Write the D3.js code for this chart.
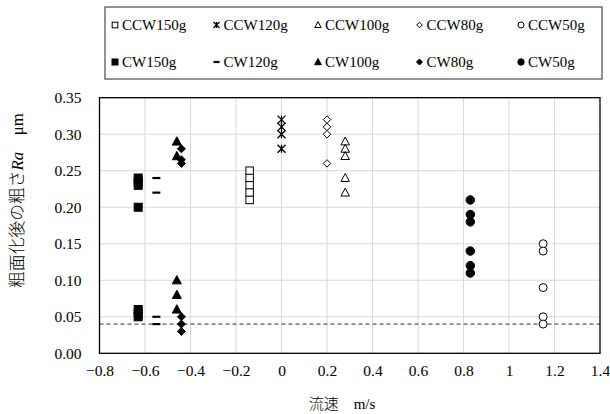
<!DOCTYPE html>
<html>
<head>
<meta charset="utf-8">
<script src="https://cdn.jsdelivr.net/npm/d3@7"></script>
<style>
  body { margin: 0; background: #fff; }
</style>
</head>
<body>
<div id="chart"></div>
<script>
// series data
var seriesNames = ["CCW150g", "CCW120g", "CCW100g", "CCW80g", "CCW50g",
                   "CW150g", "CW120g", "CW100g", "CW80g", "CW50g"];
var seriesX = [-0.14, 0, 0.28, 0.2, 1.15, -0.63, -0.55, -0.46, -0.44, 0.83];
var ccw150 = [0.25, 0.24, 0.23, 0.22, 0.21];
var ccw120 = [0.32, 0.31, 0.30, 0.28];
var ccw100 = [0.29, 0.28, 0.27, 0.24, 0.22];
var ccw80 = [0.32, 0.31, 0.30, 0.26];
var ccw50 = [0.15, 0.14, 0.09, 0.05, 0.04];
var cw150 = [0.24, 0.235, 0.23, 0.20, 0.06, 0.055, 0.05];
var cw120 = [0.24, 0.22, 0.05, 0.04];
var cw100 = [0.29, 0.27, 0.10, 0.08, 0.06];
var cw80 = [0.28, 0.265, 0.26, 0.05, 0.04, 0.03];
var cw50 = [0.21, 0.19, 0.18, 0.14, 0.12, 0.11];
var seriesY = [ccw150, ccw120, ccw100, ccw80, ccw50, cw150, cw120, cw100, cw80, cw50];
var markers = ["squareOpen", "star", "triangleOpen", "diamondOpen", "circleOpen",
               "square", "dash", "triangle", "diamond", "circle"];

var xTicks = [-0.8, -0.6, -0.4, -0.2, 0, 0.2, 0.4, 0.6, 0.8, 1, 1.2, 1.4];
var yTicks = [0, 0.05, 0.1, 0.15, 0.2, 0.25, 0.3, 0.35];
var thresholdRa = 0.04;

var serif = "'Liberation Serif', 'DejaVu Serif', serif";
var cjk = "'Noto Sans CJK JP', sans-serif";

var width = 610, height = 414;
var margin = { left: 99.5, right: 10, top: 97.7, bottom: 60.7 };

var svg = d3.select("#chart").append("svg")
    .attr("width", width)
    .attr("height", height);

var x = d3.scaleLinear().domain([-0.8, 1.4]).range([margin.left, width - margin.right]);
var y = d3.scaleLinear().domain([0, 0.35]).range([height - margin.bottom, margin.top]);

// grid
var grid = svg.append("g").attr("stroke", "#d9d9d9").attr("stroke-width", 1);
grid.selectAll(".gx").data(xTicks.slice(1, -1)).join("line")
    .attr("x1", d => x(d)).attr("x2", d => x(d))
    .attr("y1", y(0)).attr("y2", y(0.35));
grid.selectAll(".gy").data(yTicks.slice(1, -1)).join("line")
    .attr("class", "gy")
    .attr("x1", x(-0.8)).attr("x2", x(1.4))
    .attr("y1", d => y(d)).attr("y2", d => y(d));

// threshold line
svg.append("line")
    .attr("x1", x(-0.8)).attr("x2", x(1.4))
    .attr("y1", y(thresholdRa)).attr("y2", y(thresholdRa))
    .attr("stroke", "#595959").attr("stroke-width", 1.3)
    .attr("stroke-dasharray", "4,3");

// axes
var xAxis = svg.append("g")
    .attr("transform", `translate(0,${y(0)})`)
    .call(d3.axisBottom(x).tickValues(xTicks).tickSize(0).tickPadding(12)
        .tickFormat(d => d3.format("")(+d.toFixed(1))));
var yAxis = svg.append("g")
    .attr("transform", `translate(${x(-0.8)},0)`)
    .call(d3.axisLeft(y).tickValues(yTicks).tickSize(0).tickPadding(18)
        .tickFormat(d3.format(".2f")));
[xAxis, yAxis].forEach(a => {
    a.attr("font-family", serif).attr("font-size", 15.5);
    a.select(".domain").remove();
    a.selectAll("text").attr("fill", "#000");
});

// plot border
svg.append("rect")
    .attr("x", x(-0.8)).attr("y", y(0.35))
    .attr("width", x(1.4) - x(-0.8)).attr("height", y(0) - y(0.35))
    .attr("fill", "none").attr("stroke", "#000").attr("stroke-width", 1.3);

function drawMarker(g, type, s) {
    var h = s / 2;
    if (type === "square" || type === "squareOpen") {
        g.append("rect").attr("x", -h).attr("y", -h).attr("width", s).attr("height", s)
            .attr("fill", type === "square" ? "#000" : "#fff").attr("stroke", "#000").attr("stroke-width", 1);
    } else if (type === "circle" || type === "circleOpen") {
        g.append("circle").attr("r", h)
            .attr("fill", type === "circle" ? "#000" : "#fff").attr("stroke", "#000").attr("stroke-width", 1);
    } else if (type === "triangle" || type === "triangleOpen") {
        g.append("path").attr("d", `M0,${-h * 1.05}L${h},${h * 0.8}L${-h},${h * 0.8}Z`)
            .attr("fill", type === "triangle" ? "#000" : "#fff").attr("stroke", "#000").attr("stroke-width", 1);
    } else if (type === "diamond" || type === "diamondOpen") {
        g.append("path").attr("d", `M0,${-h}L${h},0L0,${h}L${-h},0Z`)
            .attr("fill", type === "diamond" ? "#000" : "#fff").attr("stroke", "#000").attr("stroke-width", 1);
    } else if (type === "star") {
        g.append("path").attr("d", `M${-h},${-h}L${h},${h}M${h},${-h}L${-h},${h}M0,${-h}L0,${h}`)
            .attr("fill", "none").attr("stroke", "#000").attr("stroke-width", 1.3);
    } else if (type === "dash") {
        g.append("path").attr("d", `M${-h},0L${h},0`)
            .attr("stroke", "#000").attr("stroke-width", 2.2);
    }
}

var markerSize = { square: 8, squareOpen: 7.5, star: 8, triangleOpen: 8.5, diamondOpen: 7.5,
                   circleOpen: 8, dash: 8, triangle: 9, diamond: 8, circle: 8.5 };

// points
seriesNames.forEach((name, i) => {
    var g = svg.append("g").attr("class", "series");
    seriesY[i].forEach(v => {
        var m = g.append("g").attr("transform", `translate(${x(seriesX[i])},${y(v)})`);
        drawMarker(m, markers[i], markerSize[markers[i]]);
    });
});

// legend
var legend = svg.append("g").attr("font-family", serif).attr("font-size", 15);
legend.append("rect")
    .attr("x", 105).attr("y", 7).attr("width", 497).attr("height", 72)
    .attr("fill", "#fff").attr("stroke", "#595959").attr("stroke-width", 1.3);
var legCol = d3.scaleLinear().domain([0, 4]).range([115, 521]);
var legRow = d3.scaleLinear().domain([0, 1]).range([25, 62]);
seriesNames.forEach((name, i) => {
    var col = i % 5, row = Math.floor(i / 5);
    var item = legend.append("g").attr("transform", `translate(${legCol(col)},${legRow(row)})`);
    drawMarker(item, markers[i], markerSize[markers[i]] * 0.75);
    item.append("text").attr("x", 7).attr("dy", "0.35em").text(name);
});

// axis titles
var xt = svg.append("text")
    .attr("x", 342).attr("y", 404).attr("dy", "0.35em")
    .attr("text-anchor", "middle").attr("font-size", 15).attr("font-family", serif);
xt.append("tspan").attr("font-family", cjk).attr("font-weight", 300).text("流速　");
xt.append("tspan").text("m/s");

var yt = svg.append("text")
    .attr("transform", "translate(17,200.5) rotate(-90)")
    .attr("dy", "0.35em")
    .attr("text-anchor", "middle").attr("font-size", 15.5).attr("font-family", serif);
yt.append("tspan").attr("font-family", cjk).attr("font-weight", 300).text("粗面化後の粗さ");
yt.append("tspan").attr("font-style", "italic").text("Ra");
yt.append("tspan").attr("font-family", cjk).text("　");
yt.append("tspan").text("μm");
// fit the title to the length seen in the picture
var ytLen = yt.node().getComputedTextLength();
if (ytLen > 0) yt.attr("font-size", 15.5 * 175 / ytLen);
</script>
</body>
</html>
